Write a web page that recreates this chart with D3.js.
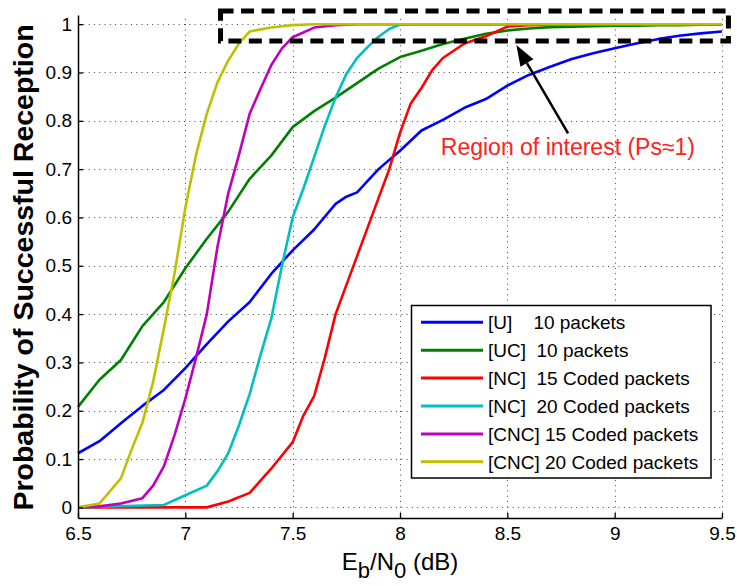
<!DOCTYPE html>
<html><head><meta charset="utf-8">
<script src="https://cdn.jsdelivr.net/npm/d3@7"></script>
<style>
body{margin:0;background:#fff}
text{font-family:"Liberation Sans",Arial,Helvetica,sans-serif}
</style>
</head><body>
<svg id="chart" width="737" height="586"></svg>
<script>
// ---------- data ----------
const xTicks = [6.5, 7, 7.5, 8, 8.5, 9, 9.5];
const xTickLabels = ["6.5", "7", "7.5", "8", "8.5", "9", "9.5"];
const yTicks = [0, 0.1, 0.2, 0.3, 0.4, 0.5, 0.6, 0.7, 0.8, 0.9, 1];
const yTickLabels = ["0", "0.1", "0.2", "0.3", "0.4", "0.5", "0.6", "0.7", "0.8", "0.9", "1"];

const seriesNames = ["[U]    10 packets", "[UC]  10 packets", "[NC]  15 Coded packets",
                     "[NC]  20 Coded packets", "[CNC] 15 Coded packets", "[CNC] 20 Coded packets"];
const seriesColors = ["#0000ff", "#008000", "#ff0000", "#00bfbf", "#bf00bf", "#bfbf00"];

const uX  = [6.5,6.6,6.7,6.8,6.9,7.0,7.1,7.2,7.3,7.4,7.5,7.6,7.7,7.75,7.8,7.9,8.0,8.1,8.2,8.3,8.4,8.5,8.6,8.7,8.8,8.9,9.0,9.1,9.2,9.3,9.4,9.5];
const uY  = [0.112,0.137,0.174,0.21,0.243,0.288,0.338,0.385,0.425,0.483,0.532,0.575,0.628,0.643,0.652,0.70,0.738,0.78,0.802,0.827,0.845,0.873,0.895,0.912,0.928,0.94,0.95,0.96,0.969,0.976,0.981,0.985];

const ucX = [6.5,6.6,6.7,6.8,6.9,7.0,7.1,7.2,7.3,7.4,7.5,7.6,7.7,7.8,7.9,8.0,8.1,8.2,8.3,8.4,8.5,8.6,8.7,8.8,8.9,9.0,9.1,9.2,9.3,9.4,9.5];
const ucY = [0.208,0.264,0.305,0.375,0.425,0.495,0.556,0.612,0.68,0.728,0.787,0.82,0.848,0.878,0.908,0.932,0.945,0.959,0.97,0.98,0.987,0.991,0.994,0.995,0.996,0.997,0.997,0.998,0.998,0.999,0.999];

const nc15X = [6.5,6.8,7.0,7.1,7.2,7.3,7.4,7.5,7.55,7.6,7.65,7.7,7.75,7.8,7.85,7.9,7.95,8.0,8.05,8.1,8.15,8.2,8.3,8.4,8.5,8.6,8.7,8.8,9.0,9.5];
const nc15Y = [0,0,0,0,0.012,0.03,0.08,0.135,0.19,0.23,0.31,0.40,0.46,0.52,0.58,0.64,0.70,0.775,0.836,0.868,0.905,0.93,0.96,0.975,0.995,0.998,0.999,1,1,1];

const nc20X = [6.5,6.9,7.0,7.1,7.15,7.2,7.25,7.3,7.35,7.4,7.45,7.5,7.55,7.6,7.65,7.7,7.75,7.8,7.85,7.9,7.95,8.0,8.1,8.5,9.0,9.5];
const nc20Y = [0,0.005,0.025,0.045,0.075,0.112,0.17,0.235,0.315,0.39,0.5,0.6,0.66,0.725,0.79,0.848,0.897,0.93,0.953,0.974,0.99,0.999,1,1,1,1];

const cnc15X = [6.5,6.6,6.7,6.8,6.85,6.9,6.95,7.0,7.05,7.1,7.15,7.2,7.25,7.3,7.35,7.4,7.45,7.5,7.6,7.7,7.8,8.0,8.5,9.0,9.5];
const cnc15Y = [0,0.002,0.008,0.019,0.045,0.085,0.15,0.225,0.31,0.40,0.54,0.65,0.73,0.815,0.866,0.915,0.95,0.973,0.993,0.998,1,1,1,1,1];

const cnc20X = [6.5,6.6,6.7,6.75,6.8,6.85,6.9,6.95,7.0,7.05,7.1,7.15,7.2,7.25,7.3,7.4,7.5,7.6,8.0,8.5,9.0,9.5];
const cnc20Y = [0,0.008,0.06,0.12,0.175,0.26,0.37,0.485,0.62,0.73,0.815,0.88,0.925,0.96,0.985,0.993,0.998,1,1,1,1,1];

const seriesX = [uX, ucX, nc15X, nc20X, cnc15X, cnc20X];
const seriesY = [uY, ucY, nc15Y, nc20Y, cnc15Y, cnc20Y];

// annotation (data units)
const roiBox = {x0: 7.164, x1: 9.53, y0: 0.9652, y1: 1.0273};
const arrowTail = [8.783, 0.774];
const arrowTip = [8.542, 0.957];
const annoText = "Region of interest (Ps\u22481)";
const annoPos = [8.19, 0.729];

// ---------- layout ----------
const svg = d3.select("#chart");
const L = 78, R = 722, T = 15, B = 518;
const x = d3.scaleLinear().domain([6.5, 9.5]).range([L, R]);
const y = d3.scaleLinear().domain([-0.022, 1.019]).range([B, T]);

// grid
const grid = svg.append("g").attr("stroke", "#444").attr("stroke-width", 1)
  .attr("stroke-dasharray", "1,4.3");
grid.selectAll("line.v").data(xTicks).join("line")
  .attr("x1", d => Math.round(x(d)) + 0.5).attr("x2", d => Math.round(x(d)) + 0.5)
  .attr("y1", B).attr("y2", T);
grid.selectAll("line.h").data(yTicks).join("line")
  .attr("y1", d => Math.round(y(d)) + 0.5).attr("y2", d => Math.round(y(d)) + 0.5)
  .attr("x1", L).attr("x2", R);

// curves
const line = d3.line().x(d => x(d[0])).y(d => y(d[1]));
seriesX.forEach((xs, i) => {
  const pts = xs.map((v, j) => [v, seriesY[i][j]]);
  svg.append("path").datum(pts).attr("d", line)
    .attr("fill", "none").attr("stroke", seriesColors[i])
    .attr("stroke-width", 2.6).attr("stroke-linejoin", "round");
});

// axes
const fs = 19;
const xAxis = d3.axisBottom(x).tickValues(xTicks).tickFormat((d, i) => xTickLabels[i])
  .tickSizeInner(-5).tickSizeOuter(0).tickPadding(9);
const yAxis = d3.axisLeft(y).tickValues(yTicks).tickFormat((d, i) => yTickLabels[i])
  .tickSizeInner(-5).tickSizeOuter(0).tickPadding(6);
const gx = svg.append("g").attr("transform", `translate(0,${B})`).call(xAxis);
const gy = svg.append("g").attr("transform", `translate(${L},0)`).call(yAxis);
[gx, gy].forEach(g => {
  g.select(".domain").attr("stroke", "#000").attr("stroke-width", 1.5);
  g.selectAll(".tick line").attr("stroke", "#000").attr("stroke-width", 1.3);
  g.selectAll(".tick text").attr("fill", "#000").style("font-size", fs + "px")
    .style("font-family", '"Liberation Sans",Arial,sans-serif');
});

// axis labels
const xl = svg.append("text").attr("x", 400).attr("y", 570).attr("text-anchor", "middle")
  .style("font-size", "24px").attr("fill", "#000");
xl.append("tspan").text("E");
xl.append("tspan").attr("dy", 8).style("font-size", "22px").text("b");
xl.append("tspan").attr("dy", -8).text("/N");
xl.append("tspan").attr("dy", 8).style("font-size", "22px").text("0");
xl.append("tspan").attr("dy", -8).attr("xml:space", "preserve").text(" (dB)");

svg.append("text").attr("transform", `translate(33,${(T + B) / 2 + 1}) rotate(-90)`)
  .attr("text-anchor", "middle").style("font-size", "28.5px").style("font-weight", "bold")
  .attr("fill", "#000").text("Probability of Successful Reception");

// legend
const lg = svg.append("g");
lg.append("rect").attr("x", 411.5).attr("y", 305.5).attr("width", 299.5).attr("height", 172.5)
  .attr("fill", "#fff").attr("stroke", "#000").attr("stroke-width", 1.5);
seriesNames.forEach((n, i) => {
  const ry = 322.3 + i * 27.9;
  lg.append("line").attr("x1", 421).attr("x2", 483).attr("y1", ry).attr("y2", ry)
    .attr("stroke", seriesColors[i]).attr("stroke-width", 3);
  lg.append("text").attr("x", 488).attr("y", ry + 7).style("font-size", fs + "px")
    .style("white-space", "pre").attr("xml:space", "preserve").attr("fill", "#000").text(n);
});

// region-of-interest box
svg.append("rect")
  .attr("x", x(roiBox.x0)).attr("y", y(roiBox.y1))
  .attr("width", x(roiBox.x1) - x(roiBox.x0)).attr("height", y(roiBox.y0) - y(roiBox.y1))
  .attr("fill", "none").attr("stroke", "#000").attr("stroke-width", 5)
  .attr("stroke-dasharray", "13,7.5");

// arrow
const tx = x(arrowTail[0]), ty = y(arrowTail[1]), hx = x(arrowTip[0]), hy = y(arrowTip[1]);
const ang = Math.atan2(hy - ty, hx - tx);
const hl = 21, hw = 7.5;
const bx = hx - hl * Math.cos(ang), by = hy - hl * Math.sin(ang);
svg.append("line").attr("x1", tx).attr("y1", ty).attr("x2", bx).attr("y2", by)
  .attr("stroke", "#000").attr("stroke-width", 2.5);
svg.append("path").attr("d", d3.line()([
  [hx, hy],
  [bx + hw * Math.sin(ang), by - hw * Math.cos(ang)],
  [bx - hw * Math.sin(ang), by + hw * Math.cos(ang)]
]) + "Z").attr("fill", "#000");

svg.append("text").attr("x", x(annoPos[0])).attr("y", y(annoPos[1]))
  .style("font-size", "23px").attr("fill", "#ff2020").text(annoText);
</script>
</body></html>
